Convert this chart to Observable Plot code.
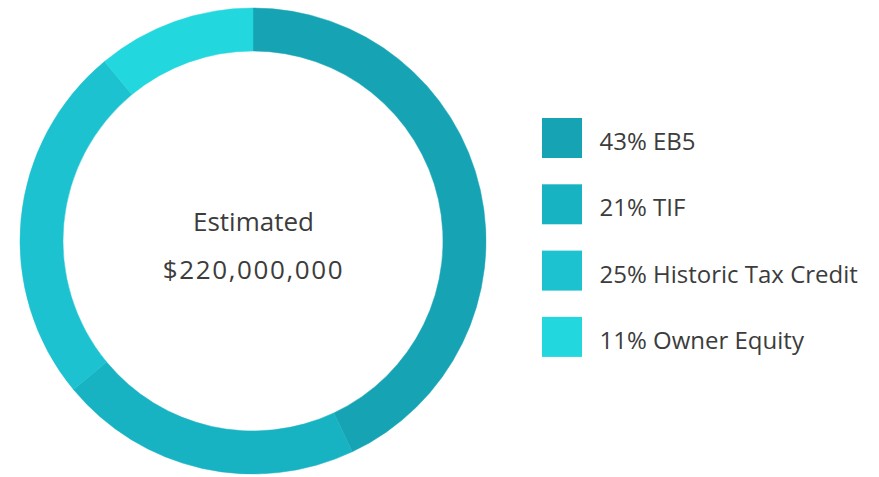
<!DOCTYPE html>
<html>
<head>
<meta charset="utf-8">
<script src="https://cdn.jsdelivr.net/npm/d3@7"></script>
<script src="https://cdn.jsdelivr.net/npm/@observablehq/plot@0.6"></script>
<style>
  html, body { margin: 0; padding: 0; background: #fff; }
  #chart svg { display: block; }
</style>
</head>
<body>
<div id="chart"></div>
<script>
const categories = ["EB5", "TIF", "Historic Tax Credit", "Owner Equity"];
const shares = [43, 21, 25, 11];
const colors = ["#16a4b4", "#18b3c2", "#1cc2cf", "#22d7dd"];
const centerLines = ["Estimated", "$220,000,000"];

const W = 879, H = 477;
const cx = 253, cy = 241, outerR = 233, innerR = 190;

const data = categories.map((c, i) => ({category: c, share: shares[i], label: `${shares[i]}% ${c}`, i}));

const font = "'Open Sans', sans-serif";

function donut(index, scales, values, dimensions) {
  const pie = d3.pie().sort(null).value(d => d.share);
  const arc = d3.arc().innerRadius(innerR).outerRadius(outerR);
  const g = d3.create("svg:g").attr("transform", `translate(${scales.x(cx)},${scales.y(cy)})`);
  g.selectAll("path").data(pie(data)).join("path")
    .attr("d", arc)
    .attr("fill", d => scales.color(d.data.category))
    .attr("stroke", d => scales.color(d.data.category))
    .attr("stroke-width", 0.5);
  return g.node();
}

const chart = Plot.plot({
  width: W,
  height: H,
  margin: 0,
  x: {domain: [0, W], range: [0, W], axis: null},
  y: {domain: [0, H], range: [0, H], axis: null},
  color: {domain: categories, range: colors},
  style: {fontFamily: font},
  marks: [
    donut,
    Plot.rect(data, {
      x1: 542, x2: 582,
      y1: d => 118 + d.i * 66.3, y2: d => 158 + d.i * 66.3,
      fill: "category"
    }),
    Plot.text(data, {
      x: 599, y: d => 142 + d.i * 66.3,
      text: "label", textAnchor: "start",
      fontSize: 24, fill: "#3c3c3c", fontFamily: font
    }),
    Plot.text([centerLines[0]], {
      x: cx, y: 222,
      text: d => d, textAnchor: "middle",
      fontSize: 26, fill: "#3c3c3c", fontFamily: font
    }),
    Plot.text([centerLines[1]], {
      x: cx, y: 270,
      text: d => d, textAnchor: "middle",
      fontSize: 26, fill: "#3c3c3c", fontFamily: font,
      render: (i, s, v, d, c, next) => {
        const g = next(i, s, v, d, c);
        g.setAttribute("letter-spacing", "1.6");
        return g;
      }
    })
  ]
});

document.getElementById("chart").appendChild(chart);
</script>
</body>
</html>
